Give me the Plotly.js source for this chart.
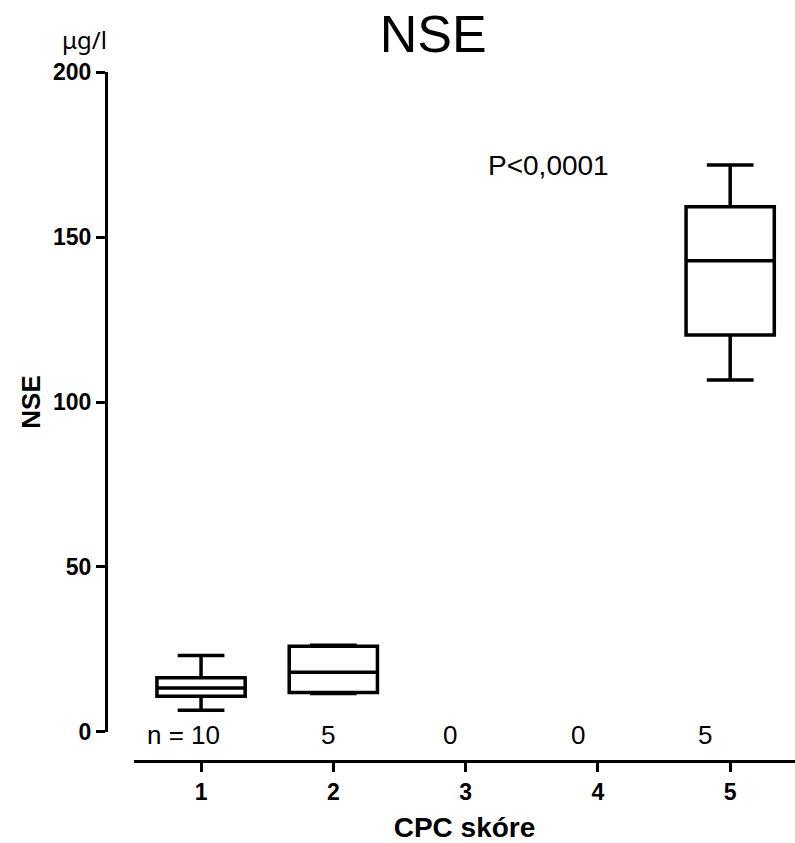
<!DOCTYPE html>
<html>
<head>
<meta charset="utf-8">
<script src="https://cdn.plot.ly/plotly-3.0.1.min.js"></script>
<style>html,body{margin:0;padding:0;background:#fff;}</style>
</head>
<body>
<div id="chart" style="width:795px;height:843px;"></div>
<script>
// Data
var categories = [1, 2, 5];
var q1 = [10.8, 12.0, 120.3];
var medians = [13.3, 18.1, 142.8];
var q3 = [16.4, 26.0, 159.2];
var lowerWhisker = [6.6, 11.7, 106.7];
var upperWhisker = [23.2, 26.3, 171.8];
var countPositions = [1, 2, 3, 4, 5];
var countLabels = ['n = 10', '5', '0', '0', '5'];
var xTickVals = [1, 2, 3, 4, 5];
var yTickVals = [0, 50, 100, 150, 200];
var pText = 'P<0,0001';

var FONT = 'Liberation Sans, Arial, sans-serif';
var countShifts = [-18, -5, -16, -20, -25];

var trace = {
  type: 'box',
  x: categories,
  q1: q1,
  median: medians,
  q3: q3,
  lowerfence: lowerWhisker,
  upperfence: upperWhisker,
  width: 0.667,
  whiskerwidth: 0.53,
  boxpoints: false,
  line: {color: '#000', width: 3.5},
  fillcolor: 'rgba(255,255,255,0)',
  hoverinfo: 'skip',
  showlegend: false
};

var annotations = countPositions.map(function (c, i) {
  return {
    x: c, y: 0.0377, xref: 'x', yref: 'paper',
    text: countLabels[i], showarrow: false,
    xanchor: 'center', yanchor: 'middle', xshift: countShifts[i],
    font: {family: FONT, size: 26, color: '#000'}
  };
});
annotations.push({
  x: 3.63, y: 171.8, xref: 'x', yref: 'y', text: pText, showarrow: false,
  xanchor: 'center', yanchor: 'middle',
  font: {family: FONT, size: 28, color: '#000'}
});
annotations.push({
  x: -0.0668, y: 1.0465, xref: 'paper', yref: 'paper', text: 'μg/l', showarrow: false,
  xanchor: 'left', yanchor: 'middle',
  font: {family: 'Noto Sans, DejaVu Sans, sans-serif', size: 24, color: '#000'}
});

var layout = {
  width: 795, height: 843,
  margin: {l: 106, r: 0, t: 72, b: 82, pad: 0},
  paper_bgcolor: '#fff', plot_bgcolor: '#fff',
  showlegend: false,
  title: {
    text: 'NSE',
    font: {family: FONT, size: 52, color: '#000'},
    x: 0.545, xanchor: 'center', xref: 'container',
    y: 0.96, yanchor: 'middle', yref: 'container'
  },
  xaxis: {
    domain: [0.0406, 1],
    range: [0.493, 5.49],
    anchor: 'free', position: 0,
    showline: true, linecolor: '#000', linewidth: 3,
    showgrid: false, zeroline: false,
    ticks: 'outside', ticklen: 9, tickwidth: 3, tickcolor: '#000',
    tickmode: 'array', tickvals: xTickVals,
    tickfont: {family: FONT, size: 23, color: '#000', weight: 'bold'},
    title: {text: 'CPC skóre', font: {family: FONT, size: 28, color: '#000', weight: 'bold'}, standoff: 16}
  },
  yaxis: {
    domain: [0.0421, 1],
    range: [0, 200],
    anchor: 'free', position: 0,
    showline: true, linecolor: '#000', linewidth: 3,
    showgrid: false, zeroline: false,
    ticks: 'outside', ticklen: 9, tickwidth: 3, tickcolor: '#000',
    tickmode: 'array', tickvals: yTickVals,
    tickfont: {family: FONT, size: 23, color: '#000', weight: 'bold'},
    title: {text: 'NSE', font: {family: FONT, size: 26, color: '#000', weight: 'bold'}, standoff: 3}
  },
  annotations: annotations
};

Plotly.newPlot('chart', [trace], layout, {staticPlot: true, displayModeBar: false});
</script>
</body>
</html>
